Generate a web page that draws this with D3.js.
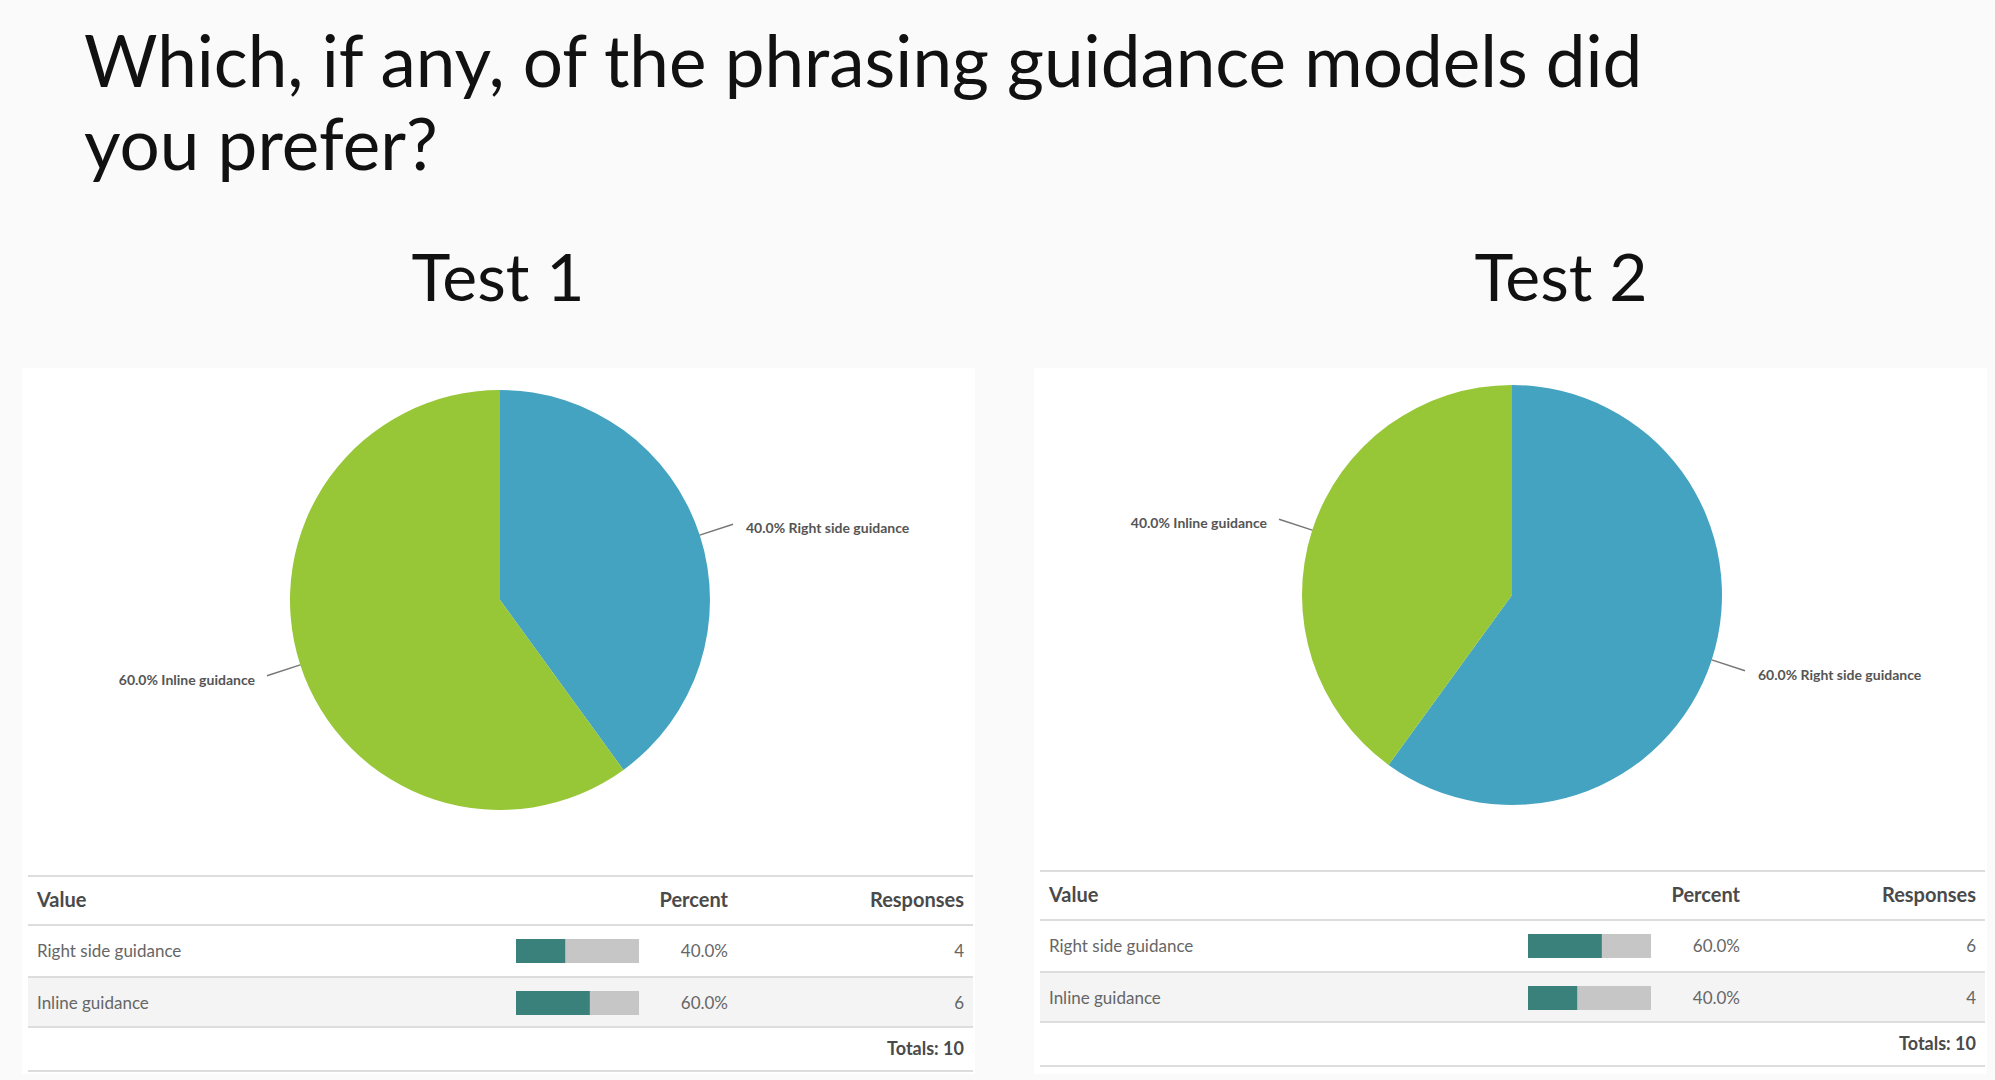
<!DOCTYPE html>
<html>
<head>
<meta charset="utf-8">
<script src="https://cdn.jsdelivr.net/npm/d3@7"></script>
<style>
  body { margin: 0; background: #fafafa; }
  svg { display: block; }
</style>
</head>
<body>
<svg width="1995" height="1080"></svg>
<script>
// data
var answers = ["Right side guidance", "Inline guidance"];
var test1Counts = [4, 6];
var test2Counts = [6, 4];
var testNames = ["Test 1", "Test 2"];
var titleLines = ["Which, if any, of the phrasing guidance models did", "you prefer?"];
var columnLabels = ["Value", "Percent", "Responses"];

var svg = d3.select("svg"),
    width = +svg.attr("width"),
    height = +svg.attr("height");

var sliceColor = d3.scaleOrdinal().domain(answers).range(["#44a3c1", "#97c637"]);

svg.append("rect").attr("width", width).attr("height", height).attr("fill", "#fafafa");

svg.append("g")
  .selectAll("text")
  .data(titleLines)
  .enter().append("text")
  .attr("x", 84)
  .attr("y", function(d, i) { return 87 + i * 83; })
  .style("font-family", "Lato, sans-serif")
  .style("font-size", "71px")
  .style("fill", "#111")
  .text(function(d) { return d; });

var panels = [
  { x: 22, dy: 0, counts: test1Counts, name: testNames[0], nameX: 498 },
  { x: 1034, dy: -5, counts: test2Counts, name: testNames[1], nameX: 1561 }
];

var radius = 210;
var pie = d3.pie().sort(null).value(function(d) { return d.count; });
var arc = d3.arc().innerRadius(0).outerRadius(radius);
var barScale = d3.scaleLinear().domain([0, 100]).range([0, 123]);

panels.forEach(function(p) {
  var total = d3.sum(p.counts);
  var rows = answers.map(function(a, i) {
    return { answer: a, count: p.counts[i], pct: p.counts[i] / total * 100 };
  });

  svg.append("text")
    .attr("x", p.nameX)
    .attr("y", 301)
    .attr("text-anchor", "middle")
    .style("font-family", "Lato, sans-serif")
    .style("font-size", "66px")
    .style("fill", "#111")
    .text(p.name);

  var g = svg.append("g").attr("transform", "translate(" + p.x + ",0)");

  g.append("rect")
    .attr("y", 368)
    .attr("width", 953)
    .attr("height", 706)
    .attr("fill", "#fff");

  // pie
  var pg = g.append("g").attr("transform", "translate(478," + (600 + p.dy) + ")");
  var arcs = pie(rows);

  pg.selectAll("path")
    .data(arcs)
    .enter().append("path")
    .attr("d", arc)
    .attr("fill", function(d) { return sliceColor(d.data.answer); });

  var inner = d3.arc().innerRadius(radius).outerRadius(radius);
  var outer = d3.arc().innerRadius(radius + 35).outerRadius(radius + 35);

  pg.selectAll("line")
    .data(arcs)
    .enter().append("line")
    .attr("x1", function(d) { return inner.centroid(d)[0]; })
    .attr("y1", function(d) { return inner.centroid(d)[1]; })
    .attr("x2", function(d) { return outer.centroid(d)[0]; })
    .attr("y2", function(d) { return outer.centroid(d)[1]; })
    .attr("stroke", "#777")
    .attr("stroke-width", 1.5);

  pg.selectAll("text.lbl")
    .data(arcs)
    .enter().append("text")
    .attr("class", "lbl")
    .attr("x", function(d) {
      var c = outer.centroid(d);
      return c[0] + (c[0] > 0 ? 13 : -12);
    })
    .attr("y", function(d) { return outer.centroid(d)[1] + 9; })
    .attr("text-anchor", function(d) { return outer.centroid(d)[0] > 0 ? "start" : "end"; })
    .style("font-family", "Lato, sans-serif")
    .style("font-weight", "bold")
    .style("font-size", "14px")
    .style("fill", "#555")
    .text(function(d) { return d.data.pct.toFixed(1) + "% " + d.data.answer; });

  // table
  var t = g.append("g").attr("transform", "translate(0," + p.dy + ")");
  var rowTop = [925, 977];

  t.selectAll("rect.band")
    .data(rows)
    .enter().append("rect")
    .attr("class", "band")
    .attr("x", 6)
    .attr("y", function(d, i) { return rowTop[i]; })
    .attr("width", 945)
    .attr("height", function(d, i) { return i === 0 ? 52 : 50; })
    .attr("fill", function(d, i) { return i % 2 ? "#f4f4f4" : "#fff"; });

  t.selectAll("line.rule")
    .data([876, 925, 977, 1027, 1071])
    .enter().append("line")
    .attr("class", "rule")
    .attr("x1", 6).attr("x2", 951)
    .attr("y1", function(d) { return d; })
    .attr("y2", function(d) { return d; })
    .attr("stroke", "#dddddd")
    .attr("stroke-width", 2);

  var headX = [15, 706, 942];
  t.selectAll("text.head")
    .data(columnLabels)
    .enter().append("text")
    .attr("class", "head")
    .attr("x", function(d, i) { return headX[i]; })
    .attr("y", 907)
    .attr("text-anchor", function(d, i) { return i === 0 ? "start" : "end"; })
    .style("font-family", "Lato, sans-serif")
    .style("font-weight", "bold")
    .style("font-size", "20px")
    .style("fill", "#4a4a4a")
    .text(function(d) { return d; });

  var r = t.selectAll("g.row")
    .data(rows)
    .enter().append("g")
    .attr("class", "row")
    .attr("transform", function(d, i) { return "translate(0," + rowTop[i] + ")"; });

  r.append("text")
    .attr("x", 15).attr("y", 32)
    .style("font-family", "Lato, sans-serif")
    .style("font-size", "17px")
    .style("fill", "#666")
    .text(function(d) { return d.answer; });

  r.append("rect")
    .attr("x", 494).attr("y", 14)
    .attr("width", barScale(100)).attr("height", 24)
    .attr("fill", "#c6c6c6");

  r.append("rect")
    .attr("x", 494).attr("y", 14)
    .attr("width", function(d) { return barScale(d.pct); }).attr("height", 24)
    .attr("fill", "#3a817b");

  r.append("text")
    .attr("x", 706).attr("y", 32)
    .attr("text-anchor", "end")
    .style("font-family", "Lato, sans-serif")
    .style("font-size", "17px")
    .style("fill", "#666")
    .text(function(d) { return d.pct.toFixed(1) + "%"; });

  r.append("text")
    .attr("x", 942).attr("y", 32)
    .attr("text-anchor", "end")
    .style("font-family", "Lato, sans-serif")
    .style("font-size", "17px")
    .style("fill", "#666")
    .text(function(d) { return d.count; });

  t.append("text")
    .attr("x", 942).attr("y", 1055)
    .attr("text-anchor", "end")
    .style("font-family", "Lato, sans-serif")
    .style("font-weight", "bold")
    .style("font-size", "18px")
    .style("fill", "#4a4a4a")
    .text("Totals: " + total);
});
</script>
</body>
</html>
